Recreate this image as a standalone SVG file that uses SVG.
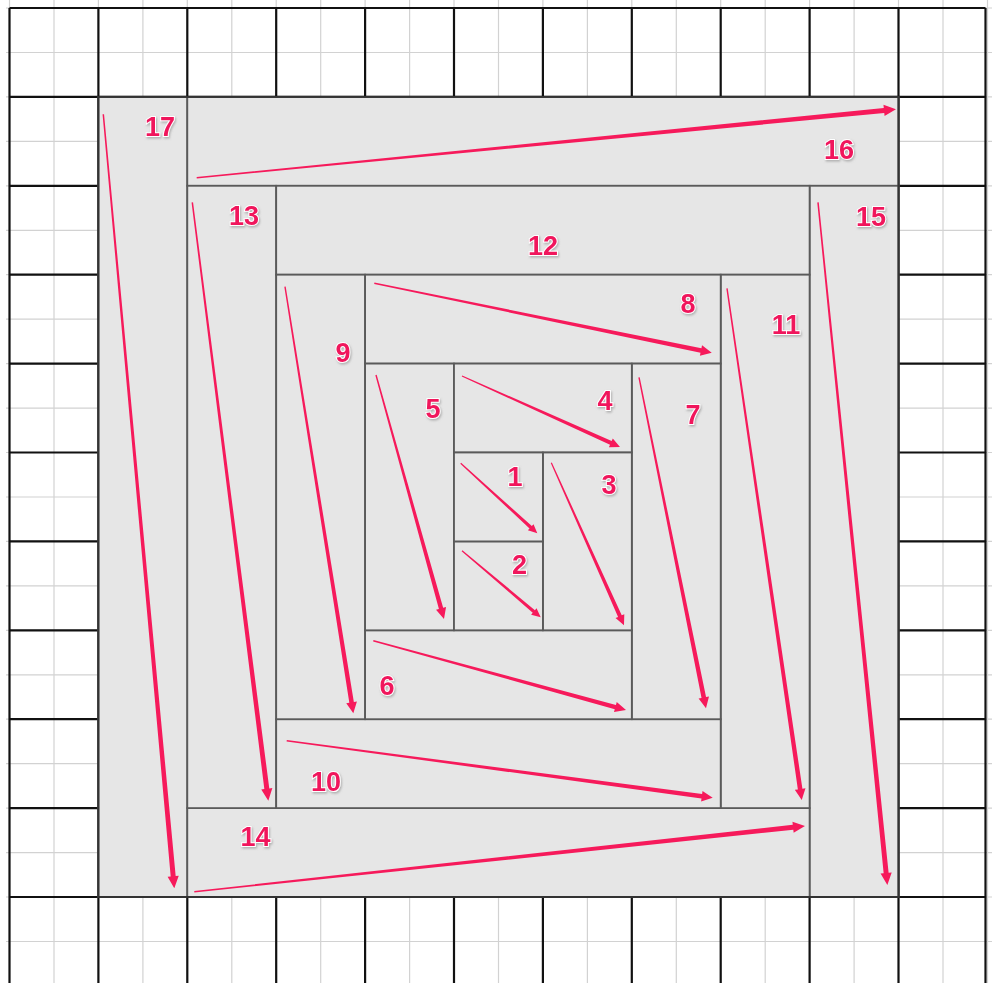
<svg xmlns="http://www.w3.org/2000/svg" width="992" height="983" viewBox="0 0 992 983">
<defs>
<filter id="sh" x="-20%" y="-20%" width="140%" height="140%">
<feDropShadow dx="1" dy="1.5" stdDeviation="1" flood-color="#888" flood-opacity="0.6"/>
</filter>
</defs>
<style>
.minor{stroke:#d2d2d2;stroke-width:1.2;fill:none}
.major{stroke:#111;stroke-width:2.2;fill:none}
.blk{fill:#e6e6e6;stroke:#5a5a5a;stroke-width:1.8}
.lbl{font-family:"Liberation Sans",Arial,sans-serif;font-weight:bold;font-size:27px;fill:#f0165c;stroke:#fff;stroke-width:2;paint-order:stroke;text-anchor:middle;filter:url(#sh)}
.arr{fill:#f61a5b}
</style>
<rect width="992" height="983" fill="#fff"/>
<g id="grid">
<path class="minor" d="M9.5 0V983M54 0V983M98.4 0V983M142.9 0V983M187.3 0V983M231.8 0V983M276.2 0V983M320.7 0V983M365.1 0V983M409.6 0V983M454 0V983M498.5 0V983M542.9 0V983M587.4 0V983M631.8 0V983M676.3 0V983M720.7 0V983M765.2 0V983M809.6 0V983M854.1 0V983M898.5 0V983M943 0V983M987.5 0V983"/>
<path class="minor" d="M6 8H992M6 52.5H992M6 96.9H992M6 141.4H992M6 185.8H992M6 230.3H992M6 274.7H992M6 319.2H992M6 363.6H992M6 408.1H992M6 452.5H992M6 497H992M6 541.4H992M6 585.9H992M6 630.3H992M6 674.8H992M6 719.2H992M6 763.7H992M6 808.1H992M6 852.6H992M6 897H992M6 941.5H992"/>
<path class="major" d="M9.5 8V983M98.4 8V983M187.3 8V983M276.2 8V983M365.1 8V983M454 8V983M542.9 8V983M631.8 8V983M720.7 8V983M809.6 8V983M898.5 8V983M985.5 8V983"/>
<path class="major" d="M9.5 8H985.5M9.5 96.9H985.5M9.5 185.8H985.5M9.5 274.7H985.5M9.5 363.6H985.5M9.5 452.5H985.5M9.5 541.4H985.5M9.5 630.3H985.5M9.5 719.2H985.5M9.5 808.1H985.5M9.5 897H985.5"/>
</g>
<g id="n17"><rect class="blk" x="98.4" y="96.9" width="88.9" height="800.1"/></g>
<g id="n16"><rect class="blk" x="187.3" y="96.9" width="711.2" height="88.9"/></g>
<g id="n15"><rect class="blk" x="809.6" y="185.8" width="88.9" height="711.2"/></g>
<g id="n14"><rect class="blk" x="187.3" y="808.1" width="622.3" height="88.9"/></g>
<g id="n13"><rect class="blk" x="187.3" y="185.8" width="88.9" height="622.3"/></g>
<g id="n12"><rect class="blk" x="276.2" y="185.8" width="533.4" height="88.9"/></g>
<g id="n11"><rect class="blk" x="720.7" y="274.7" width="88.9" height="533.4"/></g>
<g id="n10"><rect class="blk" x="276.2" y="719.2" width="444.5" height="88.9"/></g>
<g id="n9"><rect class="blk" x="276.2" y="274.7" width="88.9" height="444.5"/></g>
<g id="n8"><rect class="blk" x="365.1" y="274.7" width="355.6" height="88.9"/></g>
<g id="n7"><rect class="blk" x="631.8" y="363.6" width="88.9" height="355.6"/></g>
<g id="n6"><rect class="blk" x="365.1" y="630.3" width="266.7" height="88.9"/></g>
<g id="n5"><rect class="blk" x="365.1" y="363.6" width="88.9" height="266.7"/></g>
<g id="n4"><rect class="blk" x="454" y="363.6" width="177.8" height="88.9"/></g>
<g id="n3"><rect class="blk" x="542.9" y="452.5" width="88.9" height="177.8"/></g>
<g id="n2"><rect class="blk" x="454" y="541.4" width="88.9" height="88.9"/></g>
<g id="n1"><rect class="blk" x="454" y="452.5" width="88.9" height="88.9"/></g>
<rect x="98.4" y="96.9" width="800.1" height="800.1" fill="none" stroke="#333" stroke-width="2"/>
<g id="connectors">
<polygon class="arr" transform="translate(460.7 463.3) rotate(42.42)" points="0,-0.6 94.8,-1.7 94.8,-4.2 103.8,0 94.8,4.2 94.8,1.7 0,0.6"/>
<polygon class="arr" transform="translate(462 550.7) rotate(40.24)" points="0,-0.6 94.1,-1.7 94.1,-4.2 103.1,0 94.1,4.2 94.1,1.7 0,0.6"/>
<polygon class="arr" transform="translate(551.3 462.7) rotate(65.91)" points="0,-0.6 168.1,-2 168.1,-4.8 178.1,0 168.1,4.8 168.1,2 0,0.6"/>
<polygon class="arr" transform="translate(462 376) rotate(24.2)" points="0,-0.6 163.2,-2 163.2,-4.8 173.2,0 163.2,4.8 163.2,2 0,0.6"/>
<polygon class="arr" transform="translate(376 375) rotate(74.43)" points="0,-0.7 242.3,-2.2 242.3,-5.2 253.3,0 242.3,5.2 242.3,2.2 0,0.7"/>
<polygon class="arr" transform="translate(373.3 640.7) rotate(15.33)" points="0,-0.7 251,-2.2 251,-5.2 262,0 251,5.2 251,2.2 0,0.7"/>
<polygon class="arr" transform="translate(639 377.3) rotate(78.56)" points="0,-0.7 326.7,-2.3 326.7,-5.3 337.7,0 326.7,5.3 326.7,2.3 0,0.7"/>
<polygon class="arr" transform="translate(374.3 283.3) rotate(11.62)" points="0,-0.7 333.5,-2.3 333.5,-5.3 344.5,0 333.5,5.3 333.5,2.3 0,0.7"/>
<polygon class="arr" transform="translate(285 286.7) rotate(80.9)" points="0,-0.7 421,-2.3 421,-5.4 432,0 421,5.4 421,2.3 0,0.7"/>
<polygon class="arr" transform="translate(286.7 740.7) rotate(7.62)" points="0,-0.7 418.8,-2.3 418.8,-5.4 429.8,0 418.8,5.4 418.8,2.3 0,0.7"/>
<polygon class="arr" transform="translate(727 288.3) rotate(81.69)" points="0,-0.7 506.1,-2.3 506.1,-5.4 517.1,0 506.1,5.4 506.1,2.3 0,0.7"/>
<polygon class="arr" transform="translate(192.3 202.3) rotate(82.76)" points="0,-0.75 591.2,-2.5 591.2,-5.6 603.2,0 591.2,5.6 591.2,2.5 0,0.75"/>
<polygon class="arr" transform="translate(194.3 891.7) rotate(-6.14)" points="0,-0.75 602.2,-2.5 602.2,-5.6 614.2,0 602.2,5.6 602.2,2.5 0,0.75"/>
<polygon class="arr" transform="translate(818 202.3) rotate(84.2)" points="0,-0.75 674.2,-2.5 674.2,-5.6 686.2,0 674.2,5.6 674.2,2.5 0,0.75"/>
<polygon class="arr" transform="translate(196.7 177.7) rotate(-5.59)" points="0,-0.75 690.6,-2.5 690.6,-5.6 702.6,0 690.6,5.6 690.6,2.5 0,0.75"/>
<polygon class="arr" transform="translate(103.3 114.3) rotate(84.76)" points="0,-0.75 765.2,-2.5 765.2,-5.6 777.2,0 765.2,5.6 765.2,2.5 0,0.75"/>
</g>
<g id="labels">
<text class="lbl" x="160" y="136">17</text>
<text class="lbl" x="839" y="158.5">16</text>
<text class="lbl" x="871" y="226">15</text>
<text class="lbl" x="255.5" y="845.5">14</text>
<text class="lbl" x="244" y="224.5">13</text>
<text class="lbl" x="543" y="254.5">12</text>
<text class="lbl" x="786" y="333.5">11</text>
<text class="lbl" x="326" y="790.5">10</text>
<text class="lbl" x="343" y="361.5">9</text>
<text class="lbl" x="688" y="312.5">8</text>
<text class="lbl" x="693" y="423.5">7</text>
<text class="lbl" x="387" y="695">6</text>
<text class="lbl" x="433" y="417.5">5</text>
<text class="lbl" x="605" y="409.5">4</text>
<text class="lbl" x="609" y="493.5">3</text>
<text class="lbl" x="519.5" y="573.5">2</text>
<text class="lbl" x="515" y="485.5">1</text>
</g>
</svg>
